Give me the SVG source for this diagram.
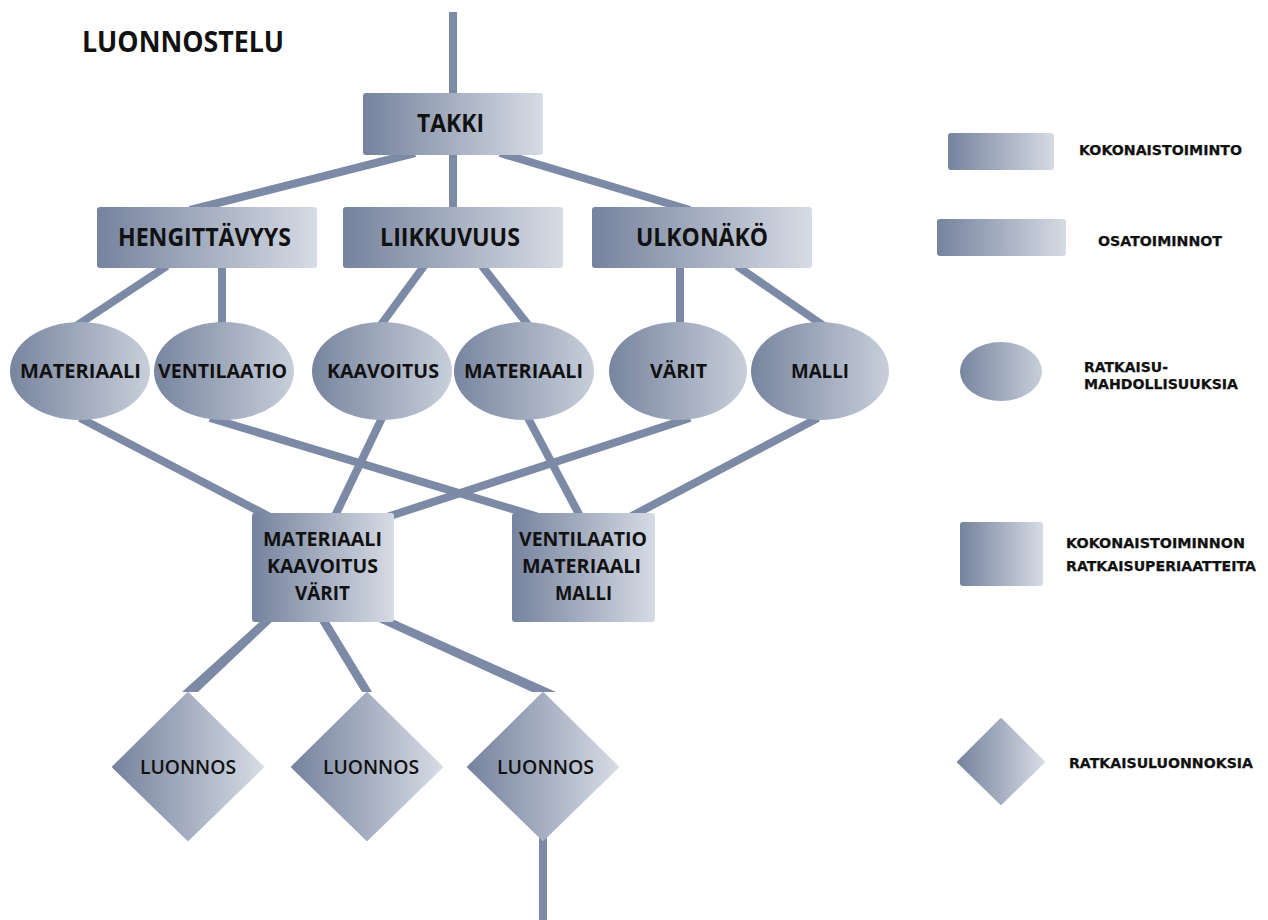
<svg xmlns="http://www.w3.org/2000/svg" width="1268" height="920" viewBox="0 0 1268 920">
<defs>
<linearGradient id="g" x1="0" y1="0" x2="1" y2="0">
<stop offset="0" stop-color="#76839e"/>
<stop offset="1" stop-color="#d6dbe4"/>
</linearGradient>
<linearGradient id="ge" x1="0" y1="0" x2="1" y2="0">
<stop offset="0" stop-color="#78859f"/>
<stop offset="1" stop-color="#c8cfda"/>
</linearGradient>
<style>
.n{fill:url(#g)}
.e{fill:url(#ge)}
.c line{stroke:#7c8aa5;stroke-width:8;stroke-linecap:butt}
.c polygon{fill:#7c8aa5}
.t{font-family:"Open Sans","Liberation Sans",sans-serif;font-weight:700;fill:#111}
.l1{font-size:25px}
.l2{font-size:20px}
.d{font-family:"Open Sans","Liberation Sans",sans-serif;font-weight:600;font-size:20px;fill:#111}
.lg{font-family:"DejaVu Sans","Liberation Sans",sans-serif;font-weight:700;font-size:14px;fill:#111;stroke:#111;stroke-width:0.25}
</style>
</defs>
<rect width="1268" height="920" fill="#fff"/>
<text class="t" x="82" y="52" font-size="28" textLength="202" lengthAdjust="spacingAndGlyphs">LUONNOSTELU</text>
<g class="c" id="connectors">
<line x1="453" y1="12" x2="453" y2="96"/>
<line x1="415" y1="153" x2="190" y2="210"/>
<line x1="453" y1="153" x2="453" y2="210"/>
<line x1="500" y1="153" x2="690" y2="210"/>
<line x1="167" y1="266" x2="76" y2="326"/>
<line x1="222" y1="266" x2="222" y2="326"/>
<line x1="424" y1="266" x2="380" y2="326"/>
<line x1="482" y1="266" x2="529" y2="326"/>
<line x1="680" y1="266" x2="680" y2="326"/>
<line x1="737" y1="266" x2="824" y2="326"/>
<line x1="80" y1="418" x2="272" y2="518"/>
<line x1="210" y1="418" x2="542" y2="518"/>
<line x1="382" y1="418" x2="334" y2="518"/>
<line x1="528" y1="418" x2="581" y2="518"/>
<line x1="690" y1="418" x2="384" y2="518"/>
<line x1="818" y1="418" x2="628" y2="518"/>
<polygon points="264,618 276,618 198,692 182,692"/>
<polygon points="317,618 327,618 372,692 362,692"/>
<polygon points="370,618 390,618 556,692 532,692"/>
<line x1="543" y1="836" x2="543" y2="920"/>
</g>
<g id="takki"><rect class="n" x="363" y="93" width="180" height="62" rx="3"/><text class="t l1" x="417" y="132" textLength="67" lengthAdjust="spacingAndGlyphs">TAKKI</text></g>
<g id="hengittavyys"><rect class="n" x="97" y="207" width="220" height="61" rx="3"/><text class="t l1" x="118" y="246" textLength="173" lengthAdjust="spacingAndGlyphs">HENGITTÄVYYS</text></g>
<g id="liikkuvuus"><rect class="n" x="343" y="207" width="220" height="61" rx="3"/><text class="t l1" x="380" y="246" textLength="140" lengthAdjust="spacingAndGlyphs">LIIKKUVUUS</text></g>
<g id="ulkonako"><rect class="n" x="592" y="207" width="220" height="61" rx="3"/><text class="t l1" x="636" y="246" textLength="132" lengthAdjust="spacingAndGlyphs">ULKONÄKÖ</text></g>
<g id="materiaali1"><ellipse class="e" cx="80" cy="371" rx="70" ry="49"/><text class="t l2" x="20" y="378" textLength="121" lengthAdjust="spacingAndGlyphs">MATERIAALI</text></g>
<g id="ventilaatio"><ellipse class="e" cx="224" cy="371" rx="70" ry="49"/><text class="t l2" x="158" y="378" textLength="129" lengthAdjust="spacingAndGlyphs">VENTILAATIO</text></g>
<g id="kaavoitus"><ellipse class="e" cx="382" cy="371" rx="70" ry="49"/><text class="t l2" x="327" y="378" textLength="112" lengthAdjust="spacingAndGlyphs">KAAVOITUS</text></g>
<g id="materiaali2"><ellipse class="e" cx="524" cy="371" rx="70" ry="49"/><text class="t l2" x="464" y="378" textLength="119" lengthAdjust="spacingAndGlyphs">MATERIAALI</text></g>
<g id="varit"><ellipse class="e" cx="678" cy="371" rx="69" ry="49"/><text class="t l2" x="650" y="378" textLength="57" lengthAdjust="spacingAndGlyphs">VÄRIT</text></g>
<g id="malli"><ellipse class="e" cx="820" cy="371" rx="69" ry="49"/><text class="t l2" x="791" y="378" textLength="58" lengthAdjust="spacingAndGlyphs">MALLI</text></g>
<g id="box1"><rect class="n" x="252" y="513" width="142" height="109" rx="3"/>
<text class="t l2" x="263" y="546" textLength="119" lengthAdjust="spacingAndGlyphs">MATERIAALI</text>
<text class="t l2" x="267" y="573" textLength="111" lengthAdjust="spacingAndGlyphs">KAAVOITUS</text>
<text class="t l2" x="295" y="600" textLength="55" lengthAdjust="spacingAndGlyphs">VÄRIT</text></g>
<g id="box2"><rect class="n" x="512" y="513" width="143" height="109" rx="3"/>
<text class="t l2" x="519" y="546" textLength="128" lengthAdjust="spacingAndGlyphs">VENTILAATIO</text>
<text class="t l2" x="522" y="573" textLength="119" lengthAdjust="spacingAndGlyphs">MATERIAALI</text>
<text class="t l2" x="555" y="600" textLength="57" lengthAdjust="spacingAndGlyphs">MALLI</text></g>
<g id="luonnos1"><path class="n" d="M188,693 L263,767 L188,840 L113,767 Z" stroke="url(#g)" stroke-width="2" stroke-linejoin="round"/><text class="d" x="140" y="774" textLength="96" lengthAdjust="spacingAndGlyphs">LUONNOS</text></g>
<g id="luonnos2"><path class="n" d="M367,693 L442,767 L367,840 L292,767 Z" stroke="url(#g)" stroke-width="2" stroke-linejoin="round"/><text class="d" x="323" y="774" textLength="96" lengthAdjust="spacingAndGlyphs">LUONNOS</text></g>
<g id="luonnos3"><path class="n" d="M543,693 L618,767 L543,840 L468,767 Z" stroke="url(#g)" stroke-width="2" stroke-linejoin="round"/><text class="d" x="497" y="774" textLength="97" lengthAdjust="spacingAndGlyphs">LUONNOS</text></g>
<g id="legend">
<g id="lg1"><rect class="n" x="948" y="133" width="106" height="37" rx="3"/><text class="lg" x="1079" y="155" textLength="163" lengthAdjust="spacingAndGlyphs">KOKONAISTOIMINTO</text></g>
<g id="lg2"><rect class="n" x="937" y="219" width="129" height="37" rx="3"/><text class="lg" x="1098" y="246" textLength="124" lengthAdjust="spacingAndGlyphs">OSATOIMINNOT</text></g>
<g id="lg3"><ellipse class="e" cx="1001" cy="371.5" rx="41" ry="29.5"/><text class="lg" x="1084" y="372" textLength="84" lengthAdjust="spacingAndGlyphs">RATKAISU-</text><text class="lg" x="1084" y="389" textLength="154" lengthAdjust="spacingAndGlyphs">MAHDOLLISUUKSIA</text></g>
<g id="lg4"><rect class="n" x="960" y="522" width="83" height="64" rx="3"/><text class="lg" x="1066" y="548" textLength="179" lengthAdjust="spacingAndGlyphs">KOKONAISTOIMINNON</text><text class="lg" x="1066" y="571" textLength="190" lengthAdjust="spacingAndGlyphs">RATKAISUPERIAATTEITA</text></g>
<g id="lg5"><path class="n" d="M1001,719 L1044,762 L1001,804 L958,762 Z" stroke="url(#g)" stroke-width="2" stroke-linejoin="round"/><text class="lg" x="1069" y="768" textLength="184" lengthAdjust="spacingAndGlyphs">RATKAISULUONNOKSIA</text></g>
</g>
</svg>
